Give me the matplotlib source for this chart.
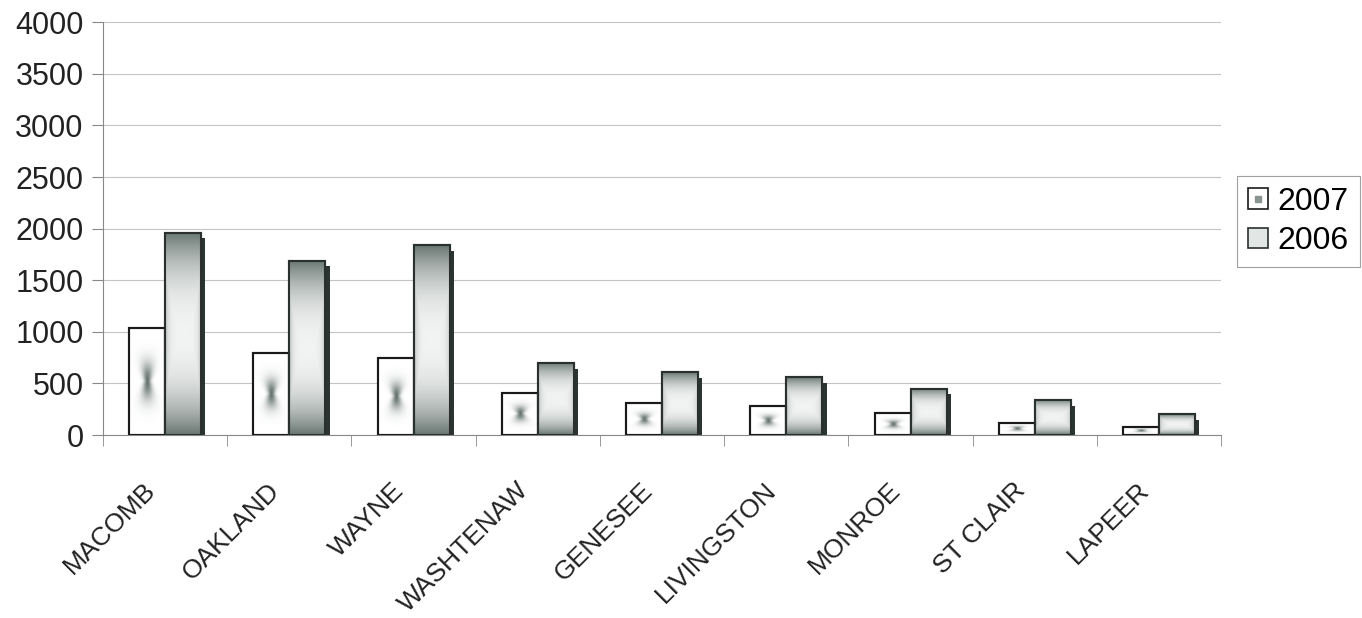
import numpy as np
import matplotlib
matplotlib.use("Agg")
import matplotlib.pyplot as plt
from matplotlib.patches import Patch
from matplotlib.lines import Line2D
from matplotlib.legend_handler import HandlerTuple
from matplotlib.transforms import ScaledTranslation

plt.rcParams['font.family'] = ['Liberation Sans', 'DejaVu Sans']

counties = ['MACOMB', 'OAKLAND', 'WAYNE', 'WASHTENAW', 'GENESEE',
            'LIVINGSTON', 'MONROE', 'ST CLAIR', 'LAPEER']
values_2007 = [1040, 800, 750, 410, 310, 280, 210, 120, 80]
values_2006 = [1960, 1690, 1840, 700, 610, 560, 450, 340, 200]
y_ticks = [0, 500, 1000, 1500, 2000, 2500, 3000, 3500, 4000]

fig = plt.figure(figsize=(13.62, 6.18), dpi=100)
ax = fig.add_axes([0.0756, 0.296, 0.821, 0.668])

x = np.arange(len(counties))
w = 0.29
dark = np.array([0.33, 0.39, 0.37])

# gradient for the 2006 bars: dark top and bottom, light in the middle
gy = np.linspace(0, 1, 200)[:, None]
gx = np.linspace(0, 1, 60)[None, :]
dv = np.abs(2 * gy - 1) ** 2.4
dh = np.abs(2 * gx - 1) ** 5 * 0.4
d = np.clip(0.08 + np.maximum(dv, dh) * 0.8, 0, 1)
grad06 = np.ones((200, 60, 3)) * (1 - d[..., None]) + dark * d[..., None]

# hourglass blob in the middle of the 2007 bars
ay = np.linspace(-0.5, 0.5, 200)[:, None]
axx = np.linspace(-0.5, 0.5, 60)[None, :]
alpha = 0.9 * np.exp(-(ay / 0.17) ** 2) * np.exp(-(axx / (0.09 + 0.7 * np.abs(ay))) ** 2)
blob07 = np.zeros((200, 60, 4))
blob07[..., :3] = dark
blob07[..., 3] = alpha

# shadow behind 2006 bars
shadow_h = [max(v - 55, 0) for v in values_2006]
ax.bar(x + w / 2 + 0.035, shadow_h, w, align='center',
       color='#2b3432', edgecolor='none', zorder=2)

bars07 = ax.bar(x - w / 2, values_2007, w, facecolor='white',
                edgecolor='#1a1a1a', linewidth=1.5, zorder=3)
bars06 = ax.bar(x + w / 2, values_2006, w, facecolor='white',
                edgecolor='#2a302e', linewidth=1.5, zorder=3)

for b in bars07:
    x0, h = b.get_x(), b.get_height()
    im = ax.imshow(blob07, extent=(x0, x0 + w, 0, h), origin='lower',
                   aspect='auto', zorder=3.5, interpolation='bilinear')
    im.set_clip_path(b)
for b in bars06:
    x0, h = b.get_x(), b.get_height()
    im = ax.imshow(grad06, extent=(x0, x0 + w, 0, h), origin='lower',
                   aspect='auto', zorder=3.5, interpolation='bilinear')
    im.set_clip_path(b)

# redraw edges over the images
for b in list(bars07) + list(bars06):
    ax.add_patch(plt.Rectangle((b.get_x(), 0), b.get_width(), b.get_height(),
                               fill=False, edgecolor=b.get_edgecolor(),
                               linewidth=1.5, zorder=4))

ax.set_xlim(-0.5, len(counties) - 0.5)
ax.set_ylim(0, 4000)
ax.set_yticks(y_ticks)
ax.set_yticklabels([str(t) for t in y_ticks], fontsize=22, color='#222222')
ax.yaxis.grid(True, color='#c4c4c4', linewidth=0.8)
ax.set_axisbelow(True)

ax.set_xticks(x)
ax.set_xticklabels(counties, fontsize=19, rotation=45, ha='right',
                   rotation_mode='anchor', color='#222222')
ax.set_xticks(np.arange(-0.5, len(counties)), minor=True)
ax.tick_params(axis='x', which='major', length=0, pad=31)
ax.tick_params(axis='x', which='minor', length=8, color='#888888')
ax.tick_params(axis='y', length=8, color='#888888', pad=6)
for lab in ax.get_xticklabels():
    lab.set_transform(lab.get_transform() +
                      ScaledTranslation(-0.22, 0, fig.dpi_scale_trans))

for s in ['top', 'right']:
    ax.spines[s].set_visible(False)
for s in ['left', 'bottom']:
    ax.spines[s].set_color('#888888')
    ax.spines[s].set_linewidth(0.8)

h07 = (Patch(facecolor='white', edgecolor='#1a1a1a', linewidth=1.2),
       Line2D([], [], marker='s', markersize=4, color='#8a9490', linestyle='none'))
h06 = Patch(facecolor='#e2e6e4', edgecolor='#2a302e', linewidth=1.2)
leg = fig.legend([h07, h06], ['2007', '2006'], loc='upper left',
                 bbox_to_anchor=(0.908, 0.716), fontsize=23, frameon=True,
                 fancybox=False, handlelength=0.62, handleheight=0.62,
                 handletextpad=0.3, borderpad=0.35, labelspacing=0.3,
                 borderaxespad=0,
                 handler_map={tuple: HandlerTuple(ndivide=1, pad=0)})
leg.get_frame().set_edgecolor('#888888')
leg.get_frame().set_linewidth(0.8)

fig.savefig('out.png', dpi=100)
